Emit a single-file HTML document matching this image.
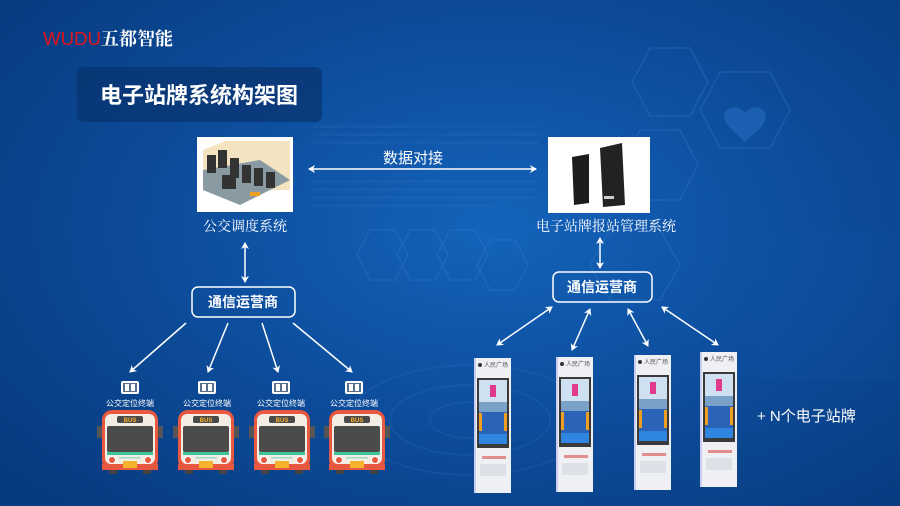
<!DOCTYPE html>
<html><head><meta charset="utf-8"><style>
html,body{margin:0;padding:0;width:900px;height:506px;overflow:hidden}
body{background:radial-gradient(ellipse 70% 75% at 55% 45%,#1463bb 0%,#0d4f9f 45%,#083a7e 100%);font-family:"Liberation Sans","Noto Sans CJK SC",sans-serif;position:relative}
svg{position:absolute;left:0;top:0}
</style></head><body>
<svg width="900" height="506" viewBox="0 0 900 506" xmlns="http://www.w3.org/2000/svg">
<defs>
<marker id="a" markerWidth="8" markerHeight="8" refX="6" refY="4" orient="auto-start-reverse" markerUnits="userSpaceOnUse"><path d="M0,0 L7,4 L0,8 L2,4z" fill="#fff"/></marker>
<g id="bus">
<rect x="0" y="16" width="5" height="12" fill="#555"/><rect x="61" y="16" width="5" height="12" fill="#555"/>
<rect x="5" y="0" width="56" height="60" rx="10" fill="#e8573f"/>
<rect x="8" y="4" width="50" height="50" rx="6" fill="#f3ede4"/>
<rect x="20" y="6" width="26" height="7" rx="2" fill="#4a4a4a"/>
<text x="33" y="12" font-size="6" font-weight="bold" fill="#f7b32b" text-anchor="middle">BUS</text>
<rect x="10" y="16" width="46" height="26" rx="2" fill="#4b4b4b"/>
<rect x="10" y="42" width="46" height="3" fill="#3fc59b"/>
<rect x="22" y="47" width="22" height="1.5" fill="#9ddcc6"/>
<circle cx="15" cy="50" r="4" fill="#fff"/><circle cx="15" cy="50" r="3" fill="#e8573f"/>
<circle cx="51" cy="50" r="4" fill="#fff"/><circle cx="51" cy="50" r="3" fill="#e8573f"/>
<rect x="5" y="54" width="56" height="6" fill="#e8573f"/>
<rect x="26" y="51" width="14" height="7" fill="#f7b32b"/>
<rect x="12" y="60" width="8" height="4" fill="#444"/><rect x="46" y="60" width="8" height="4" fill="#444"/>
</g>
<g id="term">
<rect x="0" y="0" width="18" height="13" rx="2" fill="#fff"/>
<rect x="2" y="2" width="14" height="9" fill="#5a6f8a"/><rect x="4" y="3" width="4" height="7" fill="#fff"/><rect x="10" y="3" width="4" height="7" fill="#fff"/>
</g>
<g id="kiosk">
<rect x="0" y="0" width="37" height="135" fill="#eef0f4"/>
<rect x="0" y="0" width="2" height="135" fill="#c9cdf0"/>
<circle cx="6" cy="7" r="2" fill="#333"/>
<text x="10" y="9" font-size="6" fill="#555">人民广场</text>
<rect x="3" y="20" width="32" height="70" fill="#3a3a3a"/>
<rect x="5" y="22" width="28" height="22" fill="#cfe0f0"/>
<rect x="16" y="27" width="6" height="12" fill="#e03a8c"/>
<rect x="5" y="44" width="28" height="10" fill="#7aa2c8"/>
<rect x="5" y="54" width="28" height="22" fill="#2b63b8"/>
<rect x="5" y="55" width="3" height="18" fill="#f0a020"/><rect x="30" y="55" width="3" height="18" fill="#f0a020"/>
<rect x="5" y="76" width="28" height="10" fill="#2e86e0"/>
<rect x="8" y="98" width="24" height="3" fill="#e06060" opacity=".7"/>
<rect x="6" y="106" width="26" height="12" fill="#dde0e6"/>
</g>
</defs>
<!-- decorations -->
<g fill="none" stroke="#3a7fd0" stroke-width="1.5" opacity=".3">
<polygon points="650,48 690,48 708,82 690,116 650,116 632,82"/>
<polygon points="720,72 770,72 790,110 770,148 720,148 700,110"/>
<polygon points="640,130 680,130 698,165 680,200 640,200 622,165"/>
<polygon points="610,230 660,230 680,265 660,300 610,300 590,265"/>
<polygon points="370,230 395,230 408,255 395,280 370,280 357,255"/>
<polygon points="410,230 435,230 448,255 435,280 410,280 397,255"/>
<polygon points="450,230 475,230 488,255 475,280 450,280 437,255"/>
<polygon points="490,240 515,240 528,265 515,290 490,290 477,265"/>
</g>
<path d="M745,113 c-12,-14 -30,0 -15,15 l15,14 l15,-14 c15,-15 -3,-29 -15,-15z" fill="#2f78cf" opacity=".45"/>
<rect x="755" y="230" width="140" height="150" fill="#1f6cc4" opacity=".08"/>
<g fill="#6da0e0" opacity=".07">
<rect x="313" y="125" width="225" height="3"/><rect x="313" y="133" width="225" height="3"/><rect x="313" y="141" width="225" height="3"/><rect x="313" y="180" width="225" height="3"/><rect x="313" y="188" width="225" height="3"/><rect x="313" y="196" width="225" height="3"/><rect x="313" y="204" width="180" height="3"/>
</g>
<g fill="none" stroke="#3f8ad8" opacity=".14" stroke-width="2">
<ellipse cx="470" cy="420" rx="120" ry="55"/><ellipse cx="470" cy="420" rx="80" ry="35"/><ellipse cx="470" cy="420" rx="40" ry="18"/>
</g>
<!-- logo -->
<text x="43" y="45" font-size="18" fill="#e0141c" textLength="58" lengthAdjust="spacingAndGlyphs">WUDU</text>
<text x="101" y="45" font-size="18" font-weight="bold" fill="#fff" font-family="Noto Serif CJK SC,serif">五都智能</text>
<!-- title -->
<rect x="77" y="67" width="245" height="55" rx="7" fill="#0a3470" opacity=".75"/>
<text x="199" y="103" font-size="22" font-weight="bold" fill="#fff" text-anchor="middle">电子站牌系统构架图</text>
<!-- images -->
<rect x="197" y="137" width="96" height="75" fill="#fff"/>
<polygon points="203,150 225,141 290,141 290,190 203,190" fill="#f3e3c0"/>
<polygon points="203,170 260,160 290,180 240,205 203,190" fill="#8a9aa3"/>
<g fill="#333"><rect x="207" y="155" width="9" height="18"/><rect x="218" y="150" width="9" height="18"/><rect x="230" y="158" width="9" height="20"/><rect x="242" y="165" width="9" height="18"/><rect x="254" y="168" width="9" height="18"/><rect x="266" y="172" width="9" height="16"/><rect x="222" y="175" width="14" height="14"/></g>
<rect x="250" y="192" width="10" height="4" fill="#f0a020"/>
<rect x="548" y="137" width="102" height="76" fill="#fff"/>
<polygon points="572,157 589,154 589,203 574,205" fill="#1c1c1c"/>
<polygon points="600,148 622,143 625,205 603,207" fill="#222"/>
<rect x="604" y="196" width="10" height="3" fill="#ccc"/>
<!-- labels -->
<text x="245" y="231" font-size="14" fill="#fff" text-anchor="middle" font-family="Noto Serif CJK SC,serif">公交调度系统</text>
<text x="606" y="231" font-size="14" fill="#fff" text-anchor="middle" font-family="Noto Serif CJK SC,serif">电子站牌报站管理系统</text>
<text x="413" y="163" font-size="15" fill="#fff" text-anchor="middle">数据对接</text>
<g stroke="#fff" stroke-width="1.5" fill="none">
<line x1="309" y1="169" x2="536" y2="169" marker-start="url(#a)" marker-end="url(#a)"/>
<line x1="245" y1="243" x2="245" y2="282" marker-start="url(#a)" marker-end="url(#a)"/>
<line x1="600" y1="238" x2="600" y2="268" marker-start="url(#a)" marker-end="url(#a)"/>
<line x1="186" y1="323" x2="130" y2="372" marker-end="url(#a)"/>
<line x1="228" y1="323" x2="208" y2="372" marker-end="url(#a)"/>
<line x1="262" y1="323" x2="278" y2="372" marker-end="url(#a)"/>
<line x1="293" y1="323" x2="352" y2="372" marker-end="url(#a)"/>
<line x1="552" y1="307" x2="497" y2="345" marker-start="url(#a)" marker-end="url(#a)"/>
<line x1="590" y1="309" x2="572" y2="350" marker-start="url(#a)" marker-end="url(#a)"/>
<line x1="628" y1="309" x2="648" y2="346" marker-start="url(#a)" marker-end="url(#a)"/>
<line x1="662" y1="307" x2="718" y2="345" marker-start="url(#a)" marker-end="url(#a)"/>
</g>
<rect x="192" y="287" width="103" height="30" rx="6" fill="none" stroke="#fff" stroke-width="1.5"/>
<text x="243" y="307" font-size="14" font-weight="bold" fill="#fff" text-anchor="middle">通信运营商</text>
<rect x="553" y="272" width="99" height="30" rx="6" fill="none" stroke="#fff" stroke-width="1.5"/>
<text x="602" y="292" font-size="14" font-weight="bold" fill="#fff" text-anchor="middle">通信运营商</text>
<!-- terminals & buses -->
<use href="#term" x="121" y="381"/><use href="#term" x="198" y="381"/><use href="#term" x="272" y="381"/><use href="#term" x="345" y="381"/>
<g font-size="8" fill="#fff" text-anchor="middle">
<text x="130" y="406">公交定位终端</text><text x="207" y="406">公交定位终端</text><text x="281" y="406">公交定位终端</text><text x="354" y="406">公交定位终端</text>
</g>
<use href="#bus" x="97" y="410"/><use href="#bus" x="173" y="410"/><use href="#bus" x="249" y="410"/><use href="#bus" x="324" y="410"/>
<use href="#kiosk" x="474" y="358"/><use href="#kiosk" x="556" y="357"/><use href="#kiosk" x="634" y="355"/><use href="#kiosk" x="700" y="352"/>
<text x="757" y="421" font-size="15" fill="#fff">+  N个电子站牌</text>
</svg>
</body></html>
